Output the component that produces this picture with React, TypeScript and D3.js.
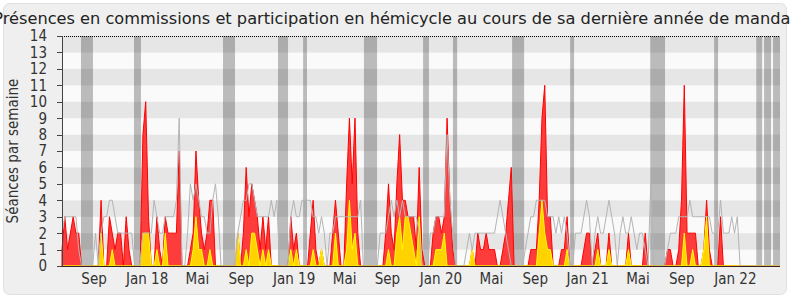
import React from "react";
import * as d3 from "d3";

// ---- data (weekly values, index = week since start of chart) ----
const commissionPresence: number[] = [
  1,3,1,2,3,2,2,0,0,0,0,0,
  0,0,4,0,0,3,2,1,2,2,0,3,1,0,
  0,0,0,8,10,3,0,0,3,1,0,3,2,2,2,2,7,0,
  0,0,1,2,7,4,2,1,2,4,4,0,0,0,
  0,0,0,0,
  0,2,0,2,6,3,5,4,3,1,3,1,3,0,0,0,0,0,0,0,
  3,1,2,0,0,0,0,
  2,4,1,0,1,0,0,0,2,4,2,0,0,5,9,5,9,2,0,
  0,0,0,0,0,
  0,0,0,2,5,2,1,5,8,4,4,3,3,3,1,6,1,
  0,0,0,2,3,3,2,3,9,4,1,0,
  0,0,0,0,0,1,0,2,1,1,2,1,1,1,0,0,1,2,4,6,
  0,0,0,0,
  0,0,1,1,1,4,9,11,3,3,0,0,0,1,1,3,0,0,
  0,0,0,1,2,2,0,1,2,0,0,0,2,0,0,0,0,0,0,2,0,0,0,0,0,2,0,
  0,0,0,0,0,0,
  1,1,0,0,1,4,11,2,2,2,2,0,0,1,4,1,0,0,0,3,0,
  0,0,0,0,0,0,0,0,0,0,0,0,0,0,0,0,0,0,0,0,
];

const commissionParticipation: number[] = [
  0,0,0,0,0,0,0,0,0,0,0,0,
  0,0,2,0,0,0,1,0,0,0,0,0,0,0,
  0,0,0,2,2,2,0,0,1,0,0,2,0,0,0,0,0,0,
  0,0,0,1,3,1,1,0,0,1,0,0,0,0,
  0,0,0,0,
  0,2,0,0,1,0,2,2,1,0,1,0,1,0,0,0,0,0,0,0,
  1,0,1,0,0,0,0,
  0,1,0,0,1,0,0,0,0,2,0,0,0,1,4,1,2,0,0,
  0,0,0,0,0,
  0,0,0,0,1,0,0,2,3,1,3,3,2,1,0,3,0,
  0,0,0,0,1,1,1,2,0,0,0,0,
  0,0,0,0,0,1,0,0,0,0,0,0,0,0,0,0,0,0,0,0,
  0,0,0,0,
  0,0,0,0,0,2,4,2,1,1,0,0,0,0,0,1,0,0,
  0,0,0,0,0,0,0,0,1,0,0,0,1,0,0,0,0,0,0,1,0,0,0,0,0,0,0,
  0,0,0,0,0,0,
  0,0,0,0,0,0,2,0,0,1,0,0,0,1,3,0,0,0,0,0,0,
  0,0,0,0,0,0,0,0,0,0,0,0,0,0,0,0,0,0,0,0,
];

const medianPresence: number[] = [
  2,3,3,3,3,3,1,0,0,0,0,0,
  2,0,2,3,3,4,4,3,2,2,2,2,2,2,
  0,0,0,2,2,2,2,4,3,2,2,3,3,3,3,4,9,0,
  0,2,5,4,5,4,3,3,2,2,4,5,3,0,
  0,0,0,0,
  0,2,3,4,4,5,5,4,3,3,3,3,3,4,3,4,0,0,0,0,
  3,4,3,3,4,4,4,
  4,3,3,2,3,2,0,2,2,3,3,3,3,3,3,3,3,3,4,
  0,0,0,0,0,
  0,2,2,2,3,4,3,4,3,4,3,3,3,3,3,2,0,
  0,0,2,2,3,3,3,3,8,4,2,0,
  0,0,0,1,2,1,2,2,2,2,2,2,2,2,3,4,3,2,1,0,
  0,0,0,0,
  1,2,3,3,4,4,4,4,3,3,3,2,3,2,3,2,0,0,
  2,2,2,3,4,3,0,2,3,2,2,3,4,3,2,0,2,3,2,2,3,2,1,2,2,1,0,5,0,
  0,0,0,0,
  1,2,2,2,3,3,3,3,4,3,3,3,3,3,3,3,2,2,2,4,2,2,2,3,2,3,0,
  0,0,0,0,0,0,0,0,0,0,0,0,0,0,
];

// parliamentary holidays, in weeks
const holidays: [number, number][] = [
  [6.8, 11.1], [25.8, 28.3], [57.7, 62], [77.4, 81], [86.4, 87.8],
  [108.2, 112.9], [129.4, 131.5], [140.1, 141.6], [161.3, 165.6],
  [182.1, 183.5], [210.8, 216.1], [233.7, 235.1], [248.8, 250.9],
  [251.6, 254.1], [254.8, 257.3],
];

const monthLabels = ["Sep", "Jan 18", "Mai", "Sep", "Jan 19", "Mai", "Sep", "Jan 20", "Mai", "Sep", "Jan 21", "Mai", "Sep", "Jan 22"];
const monthWeeks = [11.5, 30.5, 48.5, 64.2, 83.2, 101.3, 116.6, 135.8, 153.9, 169.6, 188.4, 206.4, 222.1, 241.3];
const yTicks = d3.range(0, 15);

const TITLE = "Présences en commissions et participation en hémicycle au cours de sa dernière année de mandat";
const Y_LABEL = "Séances par semaine";

export default function App() {
  const W = 790, H = 300;
  const left = 62, right = 780, top = 36, bottom = 266;
  const x = d3.scaleLinear().domain([0, 257.3]).range([left, right]);
  const y = d3.scaleLinear().domain([0, 14]).range([bottom, top]);

  const area = d3.area<number>().x((_, i) => x(i)).y0(y(0)).y1((d) => y(d));
  const line = d3.line<number>().x((_, i) => x(i)).y((d) => y(d));
  const labelFont = "'DejaVu Sans Condensed', 'DejaVu Sans', sans-serif";

  return (
    <svg width={W} height={H} style={{ position: "absolute", left: 0, top: 0, background: "#fff" }}>
      <rect x={3.5} y={3.5} width={783} height={291} rx={6} fill="#efefef" stroke="#e0e0e0" />
      {d3.range(0, 14).map((k) => (
        <rect key={"b" + k} x={left} y={y(k + 1)} width={right - left} height={y(k) - y(k + 1)}
          fill={k % 2 === 1 ? "#e6e6e6" : "#fafafa"} />
      ))}
      {holidays.map(([a, b], i) => (
        <rect key={"h" + i} x={x(a)} y={top} width={x(b) - x(a)} height={bottom - top} fill="#000" fillOpacity={0.25} />
      ))}
      <path d={area(commissionPresence) || ""} fill="#ff3c3c" stroke="#ff0000" strokeWidth={1} />
      <path d={area(commissionParticipation) || ""} fill="#ffd200" stroke="#ffff00" strokeWidth={1} />
      <path d={line(medianPresence) || ""} fill="none" stroke="#b4b4b4" strokeWidth={1} />
      <line x1={left} x2={right} y1={top + 0.5} y2={top + 0.5} stroke="#000" strokeDasharray="1,1" />
      <line x1={left} x2={right} y1={bottom + 0.5} y2={bottom + 0.5} stroke="#3a2020" />
      <line x1={left + 0.5} x2={left + 0.5} y1={top} y2={bottom} stroke="#444" />
      {yTicks.map((t) => (
        <g key={"t" + t}>
          <line x1={left - 5} x2={left} y1={Math.round(y(t)) + 0.5} y2={Math.round(y(t)) + 0.5} stroke="#444" />
          <text x={47} y={y(t)} dy="0.36em" textAnchor="end" fontFamily={labelFont} fontSize={15} fill="#333">{t}</text>
        </g>
      ))}
      {monthLabels.map((m, i) => (
        <text key={"m" + i} x={x(monthWeeks[i])} y={284} textAnchor="middle" fontFamily={labelFont} fontSize={15} fill="#333">{m}</text>
      ))}
      <text transform={`translate(18,151) rotate(-90)`} textAnchor="middle" fontFamily={labelFont} fontSize={15} fill="#333">{Y_LABEL}</text>
      <text x={395} y={24} textAnchor="middle" fontFamily="'DejaVu Sans', sans-serif" fontSize={16.2} fill="#222">{TITLE}</text>
    </svg>
  );
}
